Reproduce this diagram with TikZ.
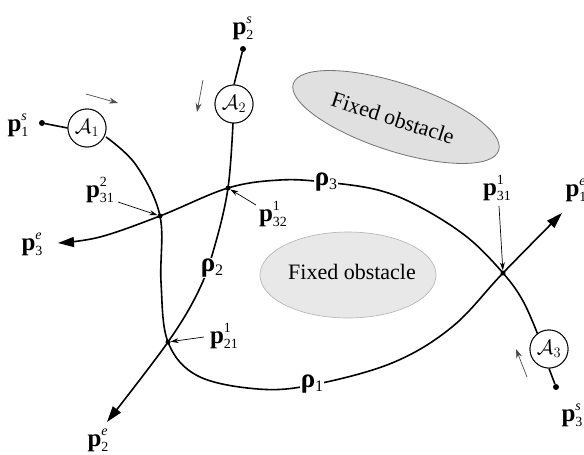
\documentclass[tikz,border=0pt]{standalone}
\usepackage{fontspec}
\setmainfont{Liberation Serif}
\usetikzlibrary{arrows.meta,shapes.geometric}
\newcommand\plab[2]{{\fontsize{25}{25}\selectfont\textbf{p}}\makebox[0pt][l]{\raisebox{11pt}{\fontsize{14}{14}\selectfont #2}}\raisebox{-5pt}{\fontsize{14}{14}\selectfont #1}}
\newcommand\rholab[1]{{\fontsize{27}{27}\selectfont\textbf{ρ}}\raisebox{-4pt}{\fontsize{16}{16}\selectfont #1}}
\tikzset{
  path/.style={line width=1.6pt},
  bigtip/.style={-{Triangle[length=16pt,width=10pt]}},
  agent/.style={circle,draw,line width=0.9pt,minimum size=38pt,inner sep=0pt,fill=white,font=\fontsize{21}{21}\selectfont},
  dot/.style={circle,fill=black,inner sep=0pt,minimum size=6pt},
  xdot/.style={circle,fill=black,inner sep=0pt,minimum size=5pt},
  lab/.style={inner sep=1pt},
  rlab/.style={fill=white,inner sep=1pt},
  pointer/.style={line width=0.7pt,-{Stealth[length=8pt,width=5pt]}},
  dir/.style={line width=0.7pt,draw=black!70,-{Stealth[length=9pt,width=6pt]}},
  obst/.style={ellipse,fill=black!12,draw=black!55,line width=0.8pt,inner sep=0pt},
  obst2/.style={ellipse,fill=black!9,draw=black!30,line width=0.6pt,inner sep=0pt},
  otext/.style={font=\fontsize{22}{22}\selectfont}
}
\begin{document}
\begin{tikzpicture}[x=1pt,y=-1pt]
\useasboundingbox (0,0) rectangle (584,455);
% obstacles
\node[obst,minimum width=216pt,minimum height=68pt,rotate=-18] (ob1) at (396,117) {};
\node[otext,rotate=-18] (ob1t) at (393,118) {Fixed obstacle};
\node[obst2,minimum width=176pt,minimum height=86pt] (ob2) at (348,275) {};
\node[otext] (ob2t) at (352,272) {Fixed obstacle};

% agents
\node[agent] (A1) at (87,128) {$\mathcal{A}_1$};
\node[agent] (A2) at (234,104) {$\mathcal{A}_2$};
\node[agent] (A3) at (549,349) {$\mathcal{A}_3$};

% start points
\node[dot] (s1) at (42,123) {};
\node[dot] (s2) at (243,49) {};
\node[dot] (s3) at (556,387) {};

% intersections
\coordinate (X31b) at (160,216);
\coordinate (X32) at (228,188);
\coordinate (X21) at (168,342);
\coordinate (X31a) at (503,273);

% rho1 points
\coordinate (r1a) at (106,137);
\coordinate (r1b) at (136,165);
\coordinate (r1c) at (161,282);
\coordinate (r1d) at (198,376);
\coordinate (r1e) at (258,389);
\coordinate (r1f) at (312,385);
\coordinate (r1g) at (392,363);
\coordinate (r1h) at (452,327);
\coordinate (e1) at (562,213);
% rho2 points
\coordinate (r2a) at (233,123);
\coordinate (r2b) at (215,245);
\coordinate (r2c) at (199,290);
\coordinate (e2) at (107,422);
% rho3 points
\coordinate (r3a) at (538,335);
\coordinate (r3b) at (523,301);
\coordinate (r3c) at (467,237);
\coordinate (r3d) at (420,207);
\coordinate (r3e) at (378,190);
\coordinate (r3f) at (324,182);
\coordinate (r3g) at (280,180);
\coordinate (r3h) at (100,237);
\coordinate (e3) at (58,243);

% paths
\draw[path] (s1) -- (A1.west);
\draw[path] (s2) -- (A2.north);
\draw[path] (s3) -- (A3.south);
\draw[path,bigtip] plot[smooth,tension=0.6] coordinates {(r1a) (r1b) (X31b) (r1c) (X21) (r1d) (r1e) (r1f) (r1g) (r1h) (X31a) (e1)};
\draw[path,bigtip] plot[smooth,tension=0.6] coordinates {(r2a) (X32) (r2b) (r2c) (X21) (e2)};
\draw[path,bigtip] plot[smooth,tension=0.6] coordinates {(r3a) (r3b) (X31a) (r3c) (r3d) (r3e) (r3f) (r3g) (X32) (X31b) (r3h) (e3)};

% re-draw agents on top
\node[agent] at (A1) {$\mathcal{A}_1$};
\node[agent] at (A2) {$\mathcal{A}_2$};
\node[agent] at (A3) {$\mathcal{A}_3$};

% intersection dots
\node[xdot] (d1) at (X31b) {};
\node[xdot] (d2) at (X32) {};
\node[xdot] (d3) at (X21) {};
\node[xdot] (d4) at (X31a) {};

% rho labels
\node[rlab] (rho1) at (312,384) {\rholab{1}};
\node[rlab] (rho2) at (212,268) {\rholab{2}};
\node[rlab] (rho3) at (326,182) {\rholab{3}};

% point labels
\node[lab] (p1s) at (18,125) {\plab{1}{\itshape s}};
\node[lab] (p2s) at (243,28) {\plab{2}{\itshape s}};
\node[lab] (p3s) at (572,415) {\plab{3}{\itshape s}};
\node[lab] (p1e) at (576,190) {\plab{1}{\itshape e}};
\node[lab] (p2e) at (98,440) {\plab{2}{\itshape e}};
\node[lab] (p3e) at (32,244) {\plab{3}{\itshape e}};
\node[lab] (p31b) at (100,190) {\plab{31}{2}};
\node[lab] (p32) at (273,214) {\plab{32}{1}};
\node[lab] (p21) at (224,336) {\plab{21}{1}};
\node[lab] (p31a) at (497,188) {\plab{31}{1}};

% pointers
\draw[pointer] (118,202) -- (d1);
\draw[pointer] (256,205) -- (d2);
\draw[pointer] (204,337) -- (d3);
\draw[pointer] (499,206) -- (d4);

% direction arrows
\draw[dir] (86,94) -- (118,103);
\draw[dir] (203,80) -- (197,112);
\draw[dir] (527,377) -- (516,349);
\end{tikzpicture}
\end{document}
